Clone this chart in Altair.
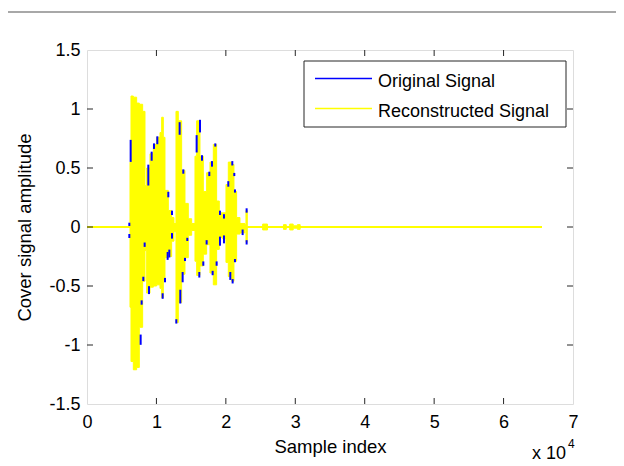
import altair as alt
import pandas as pd

# ---- data ----
# envelope of the reconstructed (yellow) signal: bin start sample, upper, lower
env_start = [6192, 6336, 6672, 7152, 7536, 8016, 8352, 8592, 9072, 9552, 10032,
             10512, 10752, 10992, 11232, 11712, 12192, 12528, 12816, 13152, 13632,
             14112, 14592, 15072, 15552, 15792, 16272, 16752, 17232, 17712, 18192,
             18672, 19056, 19536, 20016, 20352, 20832, 21168, 21552, 22032, 22752,
             22896, 23088, 25300, 26000, 28300, 28700, 29200, 29700, 30300, 30700]
env_upper = [0.55, 1.11, 1.10, 1.05, 1.04, 0.98, 0.35, 0.50, 0.62, 0.70, 0.76,
             0.80, 0.93, 0.76, 0.31, 0.14, 0.08, 0.03, 0.98, 0.90, 0.48,
             0.20, 0.07, 0.03, 0.60, 0.90, 0.60, 0.30, 0.46, 0.55, 0.70,
             0.22, 0.12, 0.12, 0.36, 0.55, 0.53, 0.30, 0.08, 0.03, 0.02,
             0.14, 0.0, 0.025, 0.0, 0.02, 0.0, 0.025, 0.01, 0.02, 0.0]
env_lower = [-0.68, -1.14, -1.21, -1.19, -0.85, -0.46, -0.20, -0.56, -0.51, -0.50, -0.49,
             -0.52, -0.60, -0.45, -0.26, -0.25, -0.12, -0.04, -0.81, -0.64, -0.40,
             -0.26, -0.07, -0.03, -0.29, -0.41, -0.33, -0.23, -0.15, -0.39, -0.49,
             -0.19, -0.09, -0.10, -0.30, -0.42, -0.46, -0.29, -0.06, -0.05, -0.02,
             -0.13, 0.0, -0.025, 0.0, -0.02, 0.0, -0.025, -0.01, -0.02, 0.0]

# visible parts of the original (blue) signal: sample, low, high
blue_x = [6096, 6096, 6288, 7728, 7872, 8112, 8304, 8832, 8928, 9312, 9648, 10128,
          10896, 11232, 11616, 11856, 11712, 12240, 12240, 12864, 13344, 13440,
          13776, 13872, 14112, 14448, 15792, 16272, 16560, 16176, 16752, 17232,
          17616, 18000, 18096, 18480, 18672, 19152, 19152, 19728, 19728, 20352,
          20640, 20928, 20976, 21216, 21312, 21312, 22416, 22992, 22992]
blue_lo = [0.017, -0.085, 0.56, -0.99, -0.65, -0.45, -0.16, 0.36, -0.56, 0.57, 0.67, 0.71,
           -0.60, -0.46, -0.27, -0.25, 0.26, 0.11, -0.09, -0.81, 0.79, -0.64,
           -0.46, 0.46, -0.28, -0.11, 0.64, 0.81, 0.57, -0.42, -0.32, -0.14,
           0.44, 0.52, -0.40, 0.69, -0.32, 0.11, -0.15, 0.08, -0.13, 0.35,
           -0.44, 0.53, -0.47, 0.44, 0.30, -0.29, -0.06, 0.13, -0.14]
blue_hi = [0.028, -0.068, 0.73, -0.92, -0.63, -0.43, -0.14, 0.52, -0.51, 0.63, 0.70, 0.76,
           -0.57, -0.44, -0.22, -0.20, 0.29, 0.13, -0.06, -0.79, 0.88, -0.54,
           -0.39, 0.48, -0.27, -0.10, 0.77, 0.90, 0.60, -0.39, -0.30, -0.12,
           0.46, 0.55, -0.38, 0.70, -0.30, 0.13, -0.09, 0.10, -0.08, 0.38,
           -0.39, 0.55, -0.45, 0.45, 0.31, -0.28, -0.03, 0.15, -0.12]

flat_x = [0, 65536]
flat_y = [0, 0]

x_axis_values = [0, 10000, 20000, 30000, 40000, 50000, 60000, 70000]
y_axis_values = [-1.5, -1, -0.5, 0, 0.5, 1, 1.5]
x_inner_ticks = [10000, 20000, 30000, 40000, 50000, 60000]
y_inner_ticks = [-1, -0.5, 0, 0.5, 1]

series_names = ["Original Signal", "Reconstructed Signal"]
series_colors = ["#0000ff", "#ffff00"]

# ---- chart ----
W, H = 486, 354
FONT = "Liberation Sans"
FRAME = "#262626"

xs = alt.Scale(domain=[0, 70000], nice=False, zero=False)
ys = alt.Scale(domain=[-1.5, 1.5], nice=False, zero=False)

x_axis = alt.Axis(values=x_axis_values, labelExpr="format(datum.value / 10000, 'd')",
                  ticks=False, domain=False, grid=False, labelFontSize=18,
                  labelColor="black", labelPadding=9, labelFlush=False, labelOverlap=False,
                  title="Sample index", titleFontSize=18.5, titleFontWeight="normal",
                  titleColor="black", titlePadding=6)
y_axis = alt.Axis(values=y_axis_values, labelExpr="datum.value + ''",
                  ticks=False, domain=False, grid=False, labelFontSize=18,
                  labelColor="black", labelPadding=7, labelFlush=False, labelOverlap=False,
                  title="Cover signal amplitude", titleFontSize=18.5, titleFontWeight="normal",
                  titleColor="black", titlePadding=14)


def X(field):
    return alt.X(field, scale=xs, axis=x_axis)


def Y(field):
    return alt.Y(field, scale=ys, axis=y_axis)


env = pd.DataFrame({"s": env_start, "up": env_upper, "lo": env_lower})
flat = pd.DataFrame({"s": flat_x, "v": flat_y})
blue = pd.DataFrame({"s": blue_x, "lo": blue_lo, "hi": blue_hi})

flat_line = alt.Chart(flat).mark_line(color=series_colors[1], strokeWidth=2).encode(
    x=X("s:Q"), y=Y("v:Q"))

yellow = alt.Chart(env).mark_area(interpolate="step-after", color=series_colors[1],
                                  stroke=series_colors[1], strokeWidth=1).encode(
    x=X("s:Q"), y=Y("up:Q"), y2="lo:Q")

blue_marks = alt.Chart(blue).mark_rule(color=series_colors[0], strokeWidth=2,
                                       strokeCap="square").encode(
    x=X("s:Q"), y=Y("lo:Q"), y2="hi:Q")

xt = pd.DataFrame({"s": x_inner_ticks})
yt = pd.DataFrame({"v": y_inner_ticks})
tick_b = alt.Chart(xt).mark_rule(color=FRAME).encode(
    x=X("s:Q"), y=alt.value(H), y2=alt.value(H - 6))
tick_t = alt.Chart(xt).mark_rule(color=FRAME).encode(
    x=X("s:Q"), y=alt.value(0), y2=alt.value(6))
tick_l = alt.Chart(yt).mark_rule(color=FRAME).encode(
    y=Y("v:Q"), x=alt.value(0), x2=alt.value(6))
tick_r = alt.Chart(yt).mark_rule(color=FRAME).encode(
    y=Y("v:Q"), x=alt.value(W), x2=alt.value(W - 6))

one = pd.DataFrame({"k": [0]})
legend_box = alt.Chart(one).mark_rect(fill="white", stroke=FRAME, strokeWidth=1).encode(
    x=alt.value(217), x2=alt.value(479), y=alt.value(11), y2=alt.value(77))
leg_line1 = alt.Chart(one).mark_rule(color=series_colors[0], strokeWidth=1.5).encode(
    x=alt.value(228), x2=alt.value(285), y=alt.value(28.5))
leg_line2 = alt.Chart(one).mark_rule(color=series_colors[1], strokeWidth=1.5).encode(
    x=alt.value(228), x2=alt.value(285), y=alt.value(58.5))
leg_text1 = alt.Chart(one).mark_text(text=series_names[0], align="left", baseline="alphabetic",
                                     fontSize=18, font=FONT, color="black").encode(
    x=alt.value(291), y=alt.value(36.5))
leg_text2 = alt.Chart(one).mark_text(text=series_names[1], align="left", baseline="alphabetic",
                                     fontSize=18, font=FONT, color="black").encode(
    x=alt.value(291), y=alt.value(66.5))

exp_text = alt.Chart(one).mark_text(text="x 10", align="left", baseline="alphabetic",
                                    fontSize=18, font=FONT, color="black").encode(
    x=alt.value(445), y=alt.value(409))
exp_sup = alt.Chart(one).mark_text(text="4", align="left", baseline="alphabetic",
                                   fontSize=12, font=FONT, color="black").encode(
    x=alt.value(481), y=alt.value(398))

top_line = alt.Chart(one).mark_rule(color="#a8a8a8", strokeWidth=2).encode(
    x=alt.value(-79), x2=alt.value(540), y=alt.value(-38))

chart = alt.layer(
    flat_line, yellow, blue_marks,
    tick_b, tick_t, tick_l, tick_r,
    legend_box, leg_line1, leg_line2, leg_text1, leg_text2,
    exp_text, exp_sup, top_line,
).properties(
    width=W, height=H,
    autosize=alt.AutoSizeParams(type="none"),
    padding={"left": 79, "top": 42, "right": 43, "bottom": 62},
    background="white",
).configure_view(
    stroke=FRAME, strokeWidth=1,
).configure(
    font=FONT,
)

chart.save("out.html", embed_options={"renderer": "svg", "actions": False})
